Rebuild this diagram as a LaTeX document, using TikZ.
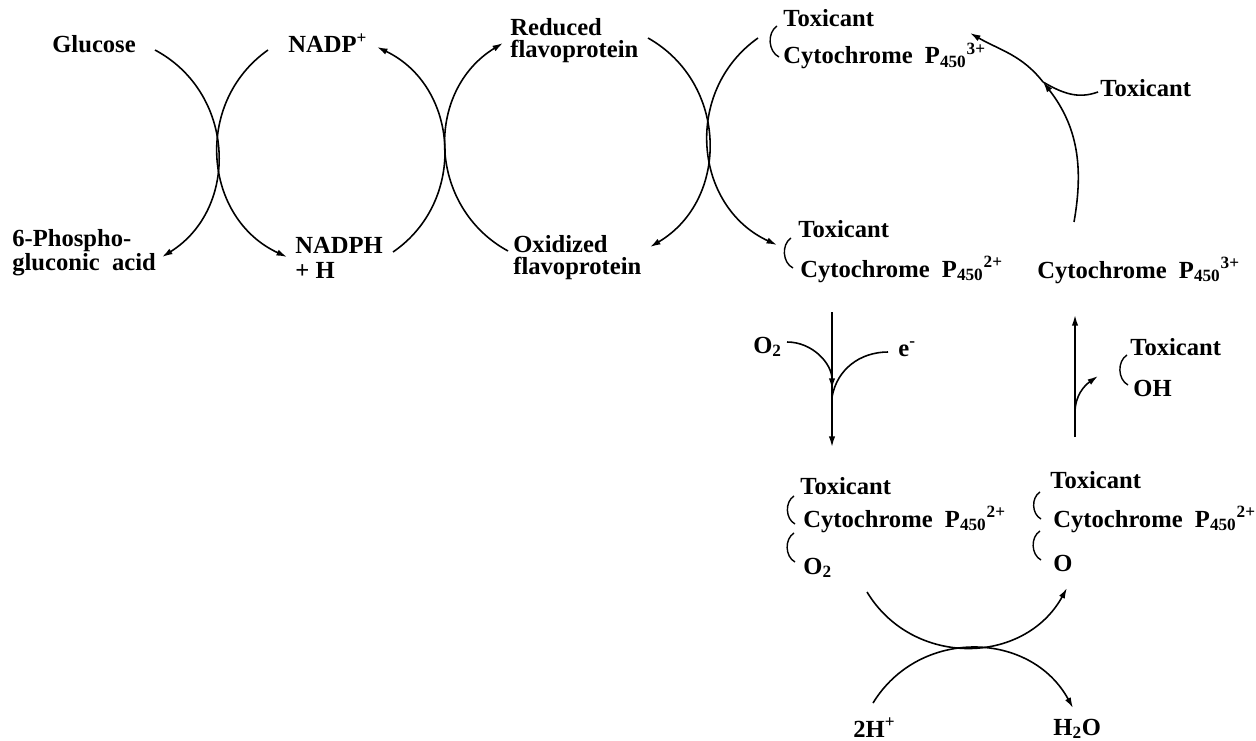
\documentclass[tikz,border=0pt]{standalone}
\usepackage{fontspec}
\setmainfont{Liberation Serif}
\usetikzlibrary{arrows.meta}
\usetikzlibrary{calc}

\tikzset{
  lbl/.style={inner sep=0pt, align=left, font={\lineskiplimit=-20pt\relax\fontsize{14}{12.5}\selectfont\bfseries}},
  rxn/.style={line width=0.9pt, -{Latex[length=6pt,width=3.6pt]}},
  flow/.style={line width=0.9pt},
  bond/.style={line width=0.8pt},
  swing/.style={looseness=1.13},
}

\begin{document}
\begin{tikzpicture}[x=0.02cm,y=0.02cm]
\useasboundingbox (0,0) rectangle (1256,-740);

% labels, top row
\node[lbl, anchor=base west] (glc) at (52,-53) {Glucose};
\node[lbl, anchor=base west] (nadp) at (288,-53) {NADP\textsuperscript{+}};
\node[lbl, anchor=north west] (redfp) at (510,-18) {Reduced\\flavoprotein};
\node[lbl, anchor=base west] (tox1) at (783,-27) {Toxicant};
\node[lbl, anchor=base west] (cyt1) at (783,-64) {Cytochrome\ \ P\textsubscript{450}\textsuperscript{3+}};
\node[lbl, anchor=base west] (toxin) at (1100,-96) {Toxicant};

% labels, second row
\node[lbl, anchor=north west] (pga) at (12,-229) {6-Phospho-\\[1pt]gluconic\ \ acid};
\node[lbl, anchor=north west] (nadph) at (295,-237) {NADPH\\[1.5pt]+ H};
\node[lbl, anchor=north west] (oxfp) at (513,-235) {Oxidized\\flavoprotein};
\node[lbl, anchor=base west] (tox2) at (798,-237) {Toxicant};
\node[lbl, anchor=base west] (cyt2) at (800,-277) {Cytochrome\ \ P\textsubscript{450}\textsuperscript{2+}};
\node[lbl, anchor=base west] (cyt3) at (1037,-278) {Cytochrome\ \ P\textsubscript{450}\textsuperscript{3+}};

% labels, middle
\node[lbl, anchor=base west] (o2a) at (753,-353) {O\textsubscript{2}};
\node[lbl, anchor=base west] (elec) at (898,-356) {e\textsuperscript{-}};
\node[lbl, anchor=base west] (toxoh) at (1130,-355) {Toxicant};
\node[lbl, anchor=base west] (ohgrp) at (1133,-396) {OH};

% labels, bottom
\node[lbl, anchor=base west] (tox4) at (800,-494) {Toxicant};
\node[lbl, anchor=base west] (cyt4) at (803,-527) {Cytochrome\ \ P\textsubscript{450}\textsuperscript{2+}};
\node[lbl, anchor=base west] (o2b) at (803,-574) {O\textsubscript{2}};
\node[lbl, anchor=base west] (tox5) at (1050,-488) {Toxicant};
\node[lbl, anchor=base west] (cyt5) at (1053,-527) {Cytochrome\ \ P\textsubscript{450}\textsuperscript{2+}};
\node[lbl, anchor=base west] (ob) at (1053,-571) {O};
\node[lbl, anchor=base west] (hplus) at (853,-737) {2H\textsuperscript{+}};
\node[lbl, anchor=base west] (water) at (1053,-735) {H\textsubscript{2}O};

% bonds
\draw[bond] ($(tox1.base west)+(-6,1)$) to[bend right=60] ($(cyt1.base west)+(-4,7)$);
\draw[bond] ($(tox2.base west)+(-7,-1)$) to[bend right=60] ($(cyt2.base west)+(-7,9)$);
\draw[bond] ($(toxoh.base west)+(-3,0)$) to[bend right=60] ($(ohgrp.base west)+(-5,11)$);
\draw[bond] ($(tox4.base west)+(-6,-2)$) to[bend right=60] ($(cyt4.base west)+(-8,3)$);
\draw[bond] ($(cyt4.base west)+(-9,-6)$) to[bend right=60] ($(o2b.base west)+(-8,12)$);
\draw[bond] ($(tox5.base west)+(-10,-4)$) to[bend right=60] ($(cyt5.base west)+(-12,8)$);
\draw[bond] ($(cyt5.base west)+(-13,-4)$) to[bend right=60] ($(ob.base west)+(-12,11)$);

% coupled cycles along the top
\draw[rxn] ($(glc.base west)+(103,3)$) to[bend left=60, swing] ($(pga.north west)+(150,-28)$);
\draw[rxn] ($(nadp.base west)+(-20,3)$) to[bend right=60, swing] ($(nadph.north west)+(-8,-20)$);
\draw[rxn] ($(nadph.north west)+(98,-15)$) to[bend right=60, swing] ($(nadp.base west)+(89,6)$);
\draw[rxn] ($(oxfp.north west)+(-5,-16)$) to[bend left=60, swing] ($(redfp.north west)+(-7,-25)$);
\draw[rxn] ($(redfp.north west)+(138,-20)$) to[bend left=60, swing] ($(oxfp.north west)+(137,-12)$);
\draw[rxn] ($(tox1.base west)+(-25,-11)$) to[bend right=60, swing] ($(tox2.base west)+(-21,-8)$);

% return arc with incoming toxicant
\coordinate (join) at ($(toxin.base west)+(-57,14)$);
\draw[rxn] ($(cyt3.base west)+(37,56)$) to[out=80, in=-52] (join);
\draw[rxn] (join) to[out=128, in=-30] ($(cyt1.base west)+(187,31)$);
\draw[flow] ($(toxin.base west)+(-2,4)$) to[out=200, in=-30] (join);

% oxygen and electron step
\coordinate (dntop) at ($(cyt2.base west)+(32,-35)$);
\coordinate (dnbot) at ($(tox4.base west)+(32,47)$);
\path (dntop) -- coordinate[pos=0.57] (o2join) coordinate[pos=0.63] (ejoin) (dnbot);
\draw[rxn] (dntop) -- (dnbot);
\draw[rxn] ($(o2a.base west)+(34,11)$) to[out=0, in=90] (o2join);
\draw[flow] ($(elec.base west)+(-10,4)$) to[out=180, in=80] (ejoin);

% product release
\coordinate (upbot) at ($(tox5.base west)+(25,51)$);
\coordinate (uptop) at ($(cyt3.base west)+(38,-37)$);
\path (upbot) -- coordinate[pos=0.2] (ohfork) (uptop);
\draw[rxn] (upbot) -- (uptop);
\draw[rxn] (ohfork) to[out=90, in=215] ($(ohgrp.base west)+(-35,20)$);

% water formation
\draw[rxn] ($(o2b.base west)+(64,-18)$) to[bend right=60, swing] ($(ob.base west)+(14,-17)$);
\draw[rxn] ($(hplus.base west)+(20,34)$) to[bend left=60, swing] ($(water.base west)+(20,27)$);

\end{tikzpicture}
\end{document}
